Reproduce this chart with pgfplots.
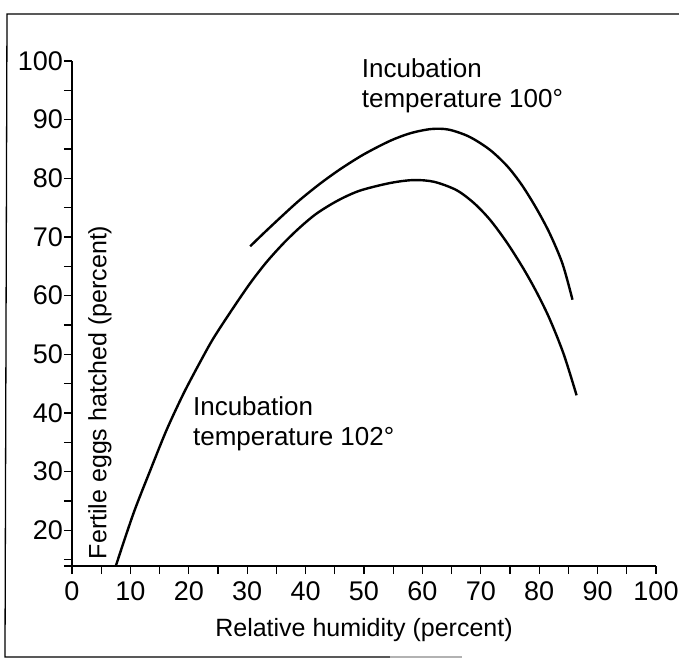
\documentclass[border=0pt]{standalone}
\usepackage{pgfplots}
\pgfplotsset{compat=1.18}
\usepackage{fontspec}
\setmainfont{Liberation Sans}
\begin{document}
\begin{tikzpicture}[x=1pt,y=1pt]
\useasboundingbox (-72,-95) rectangle (607,566);
% frame
\draw[line width=1.3pt] (607,552) -- (-65,552) -- (-67,-91) -- (318,-91);
\draw[line width=1.3pt,gray!60] (318,-91) -- (390,-91);
\begin{axis}[
  at={(0,0)}, anchor=origin,
  scale only axis, width=584pt, height=505pt,
  xmin=0, xmax=100, ymin=13.9, ymax=100,
  axis x line*=bottom, axis y line*=left,
  axis line style={line width=1.4pt},
  xtick={0,10,...,100}, minor xtick={5,15,...,95},
  ytick={20,30,...,100}, minor ytick={15,25,...,95},
  extra y ticks={13.9}, extra y tick labels={},
  tick align=outside,
  major tick length=8pt, minor tick length=8pt,
  every tick/.style={black, line width=1.3pt},
  /pgf/number format/assume math mode=true,
  ticklabel style={font=\fontsize{27}{30}\selectfont},
  yticklabel style={inner sep=1pt},
  xticklabel style={inner sep=2pt, yshift=-5pt},
  clip=false,
]
\addplot[black, line width=2.4pt, smooth] coordinates {
(7.5,13.9) (10.5,22.8) (13.4,30.2) (16.2,37.1) (19.1,43.3) (21.9,48.6)
(24.2,52.7) (27.4,57.6) (30.5,62.1) (33.3,65.7) (36.2,68.9) (39.0,71.6)
(41.9,74.0) (45.5,76.2) (49.3,77.9) (54.5,79.2) (58.5,79.7) (62.0,79.4)
(65.8,78.0) (68.8,75.8) (71.6,72.9) (74.5,69.0) (77.3,64.6) (79.6,60.5)
(81.8,56.0) (84.2,50.0) (86.4,43.0)
};
\addplot[black, line width=2.4pt, smooth] coordinates {
(30.5,68.4) (33.0,70.8) (36.0,73.6) (39.0,76.3) (42.5,79.1) (46.0,81.6)
(50.0,84.1) (54.5,86.4) (58.0,87.7) (61.5,88.4) (64.5,88.3) (68.0,87.1)
(71.5,84.9) (74.5,82.1) (77.0,78.9) (79.5,74.9) (81.8,70.6) (84.0,65.4)
(85.7,59.3)
};
\node[anchor=base west, inner sep=0pt, font=\fontsize{26}{30}\selectfont] at (axis cs:49.6,97.1) {Incubation};
\node[anchor=base west, inner sep=0pt, font=\fontsize{26}{30}\selectfont] at (axis cs:49.6,92.15) {temperature 100°};
\node[anchor=base west, inner sep=0pt, font=\fontsize{26}{30}\selectfont] at (axis cs:20.7,39.6) {Incubation};
\node[anchor=base west, inner sep=0pt, font=\fontsize{26}{30}\selectfont] at (axis cs:20.7,34.5) {temperature 102°};
\node[rotate=90, anchor=center, inner sep=0pt, font=\fontsize{25}{30}\selectfont] at (axis cs:4.8,43.5) {Fertile eggs hatched (percent)};
\node[anchor=center, inner sep=0pt, font=\fontsize{25}{30}\selectfont] at (axis cs:50,3.0) {Relative humidity (percent)};
\end{axis}
\end{tikzpicture}
\end{document}
